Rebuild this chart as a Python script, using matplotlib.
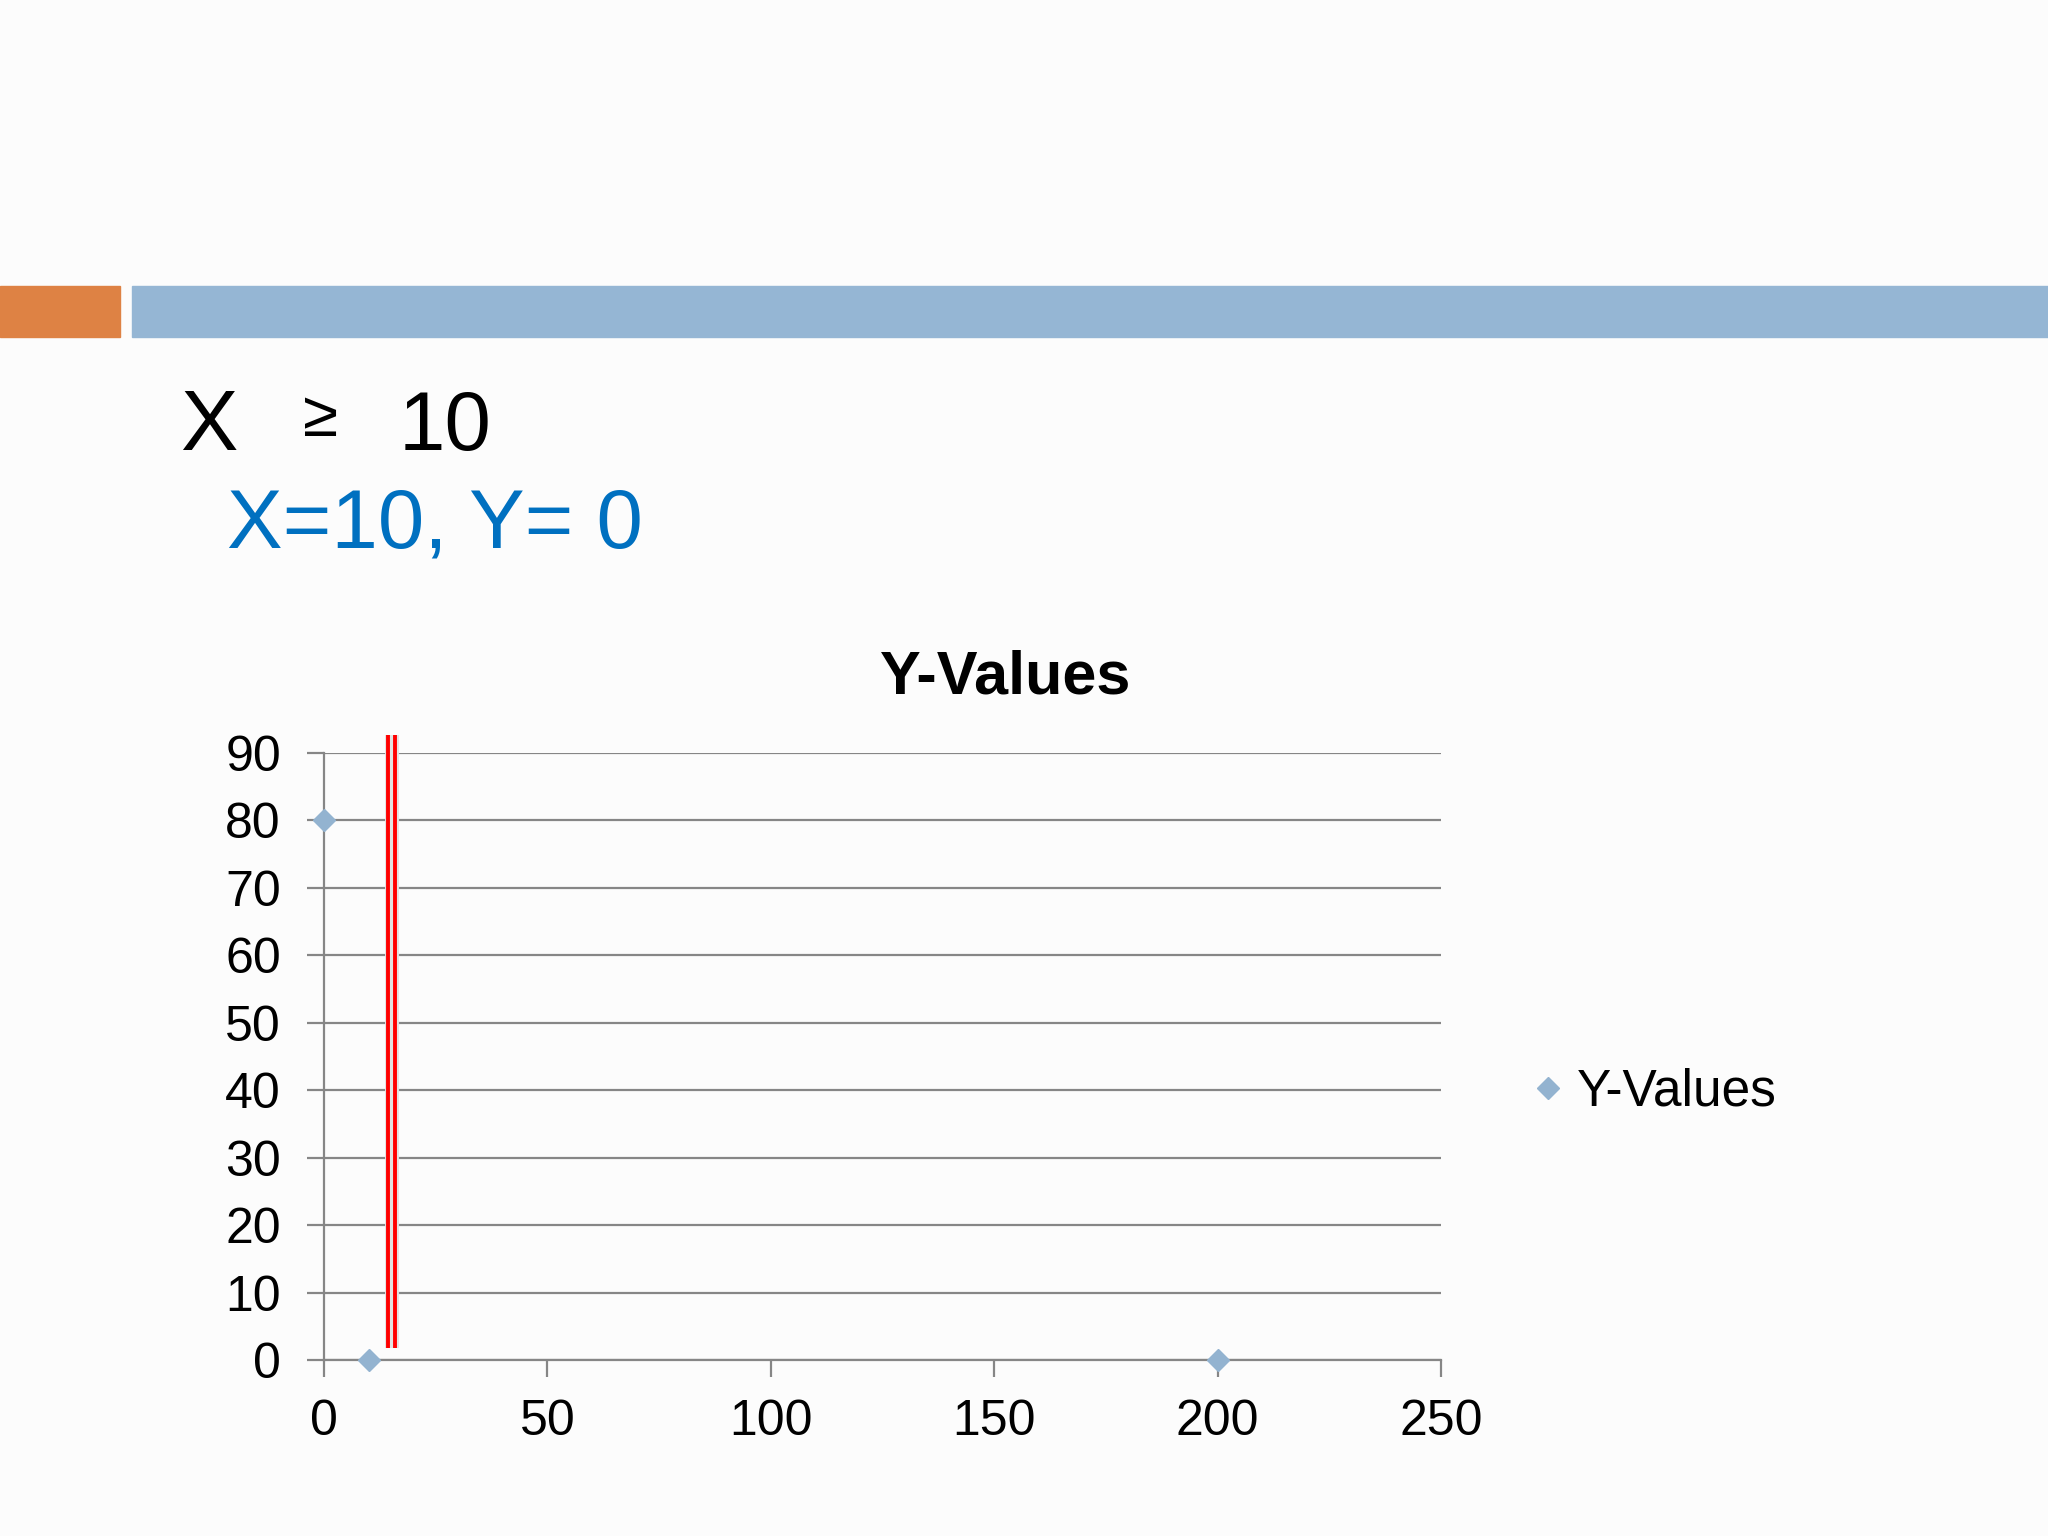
import matplotlib
matplotlib.use("Agg")
import matplotlib.pyplot as plt
from matplotlib.patches import Rectangle

# ---- data ----
x_values = [0, 10, 200]
y_values = [80, 0, 0]
series_name = "Y-Values"
chart_title = "Y-Values"
x_ticks = [0, 50, 100, 150, 200, 250]
y_ticks = [0, 10, 20, 30, 40, 50, 60, 70, 80, 90]
# red double marker line (annotation drawn on slide)
red_line_x = [14.4, 16.0]
red_line_y = [1.8, 92.7]

W, H = 2048, 1536
DPI = 100
plt.rcParams['font.family'] = ['Liberation Sans', 'DejaVu Sans']

fig = plt.figure(figsize=(W / DPI, H / DPI), dpi=DPI, facecolor='#fcfcfc')

def fx(px):
    return px / W

def fy(py):
    return 1 - py / H

# header bars
fig.patches.append(Rectangle((fx(0), fy(337)), fx(120), (337 - 286) / H,
                             transform=fig.transFigure, color='#de8244', zorder=0))
fig.patches.append(Rectangle((fx(132), fy(337)), 1 - fx(132), (337 - 286) / H,
                             transform=fig.transFigure, color='#95b6d4', zorder=0))

# slide text
fig.text(fx(180), fy(450), "X", fontsize=62, color='black', va='baseline', ha='left')
fig.text(fx(303), fy(436), "≥", fontsize=46, color='black', va='baseline', ha='left')
fig.text(fx(399), fy(450), "10", fontsize=60, color='black', va='baseline', ha='left')
fig.text(fx(227), fy(548), "X=10, Y= 0", fontsize=60, color='#0070c0', va='baseline', ha='left')

# chart
ax = fig.add_axes([fx(324), fy(1360), fx(1441) - fx(324), (1360 - 753) / H])
ax.set_facecolor('none')
ax.set_xlim(0, 250)
ax.set_ylim(0, 90)
ax.set_xticks(x_ticks)
ax.set_yticks(y_ticks)
grid_c = '#868686'
ax.grid(axis='y', color=grid_c, linewidth=1.6)
ax.set_axisbelow(True)
for s in ['top', 'right']:
    ax.spines[s].set_visible(False)
for s in ['left', 'bottom']:
    ax.spines[s].set_color(grid_c)
    ax.spines[s].set_linewidth(1.6)
ax.tick_params(axis='both', colors=grid_c, labelcolor='black', labelsize=36,
               width=1.6, length=12)
ax.tick_params(axis='y', pad=19)
ax.tick_params(axis='x', pad=16)

ax.plot(x_values, y_values, linestyle='none', marker='D', markersize=11,
        color='#93b3d0', label=series_name, zorder=4, clip_on=False)

# red double line with faint shadow
xm = sum(red_line_x) / 2
ax.plot([xm, xm], red_line_y, color='#e3e3e3', linewidth=10,
        solid_capstyle='butt', zorder=3, clip_on=False)
for xr in red_line_x:
    ax.plot([xr, xr], red_line_y, color='#ff0000', linewidth=2.8,
            solid_capstyle='butt', zorder=3.5, clip_on=False)

fig.text(fx(1006), fy(693), chart_title, fontsize=44, fontweight='bold',
         ha='center', va='baseline')

leg = ax.legend(loc='center left', bbox_to_anchor=(fx(1533), fy(1092)),
                bbox_transform=fig.transFigure, frameon=False, fontsize=37,
                handlelength=0.6, handletextpad=0.25, borderpad=0, borderaxespad=0)

fig.savefig('out.png', dpi=DPI, facecolor=fig.get_facecolor())
